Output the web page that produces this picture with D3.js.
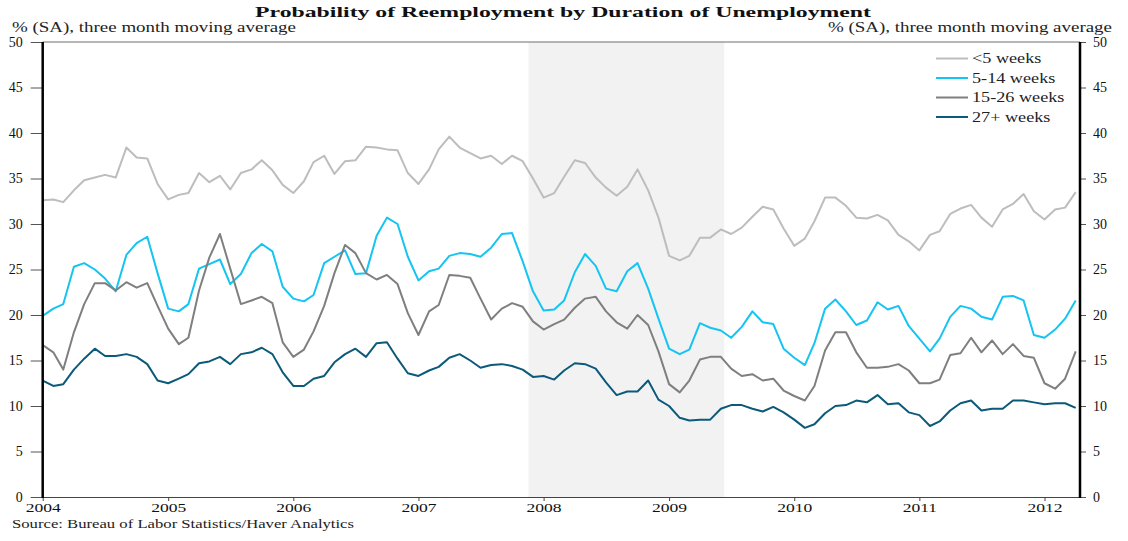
<!DOCTYPE html>
<html>
<head>
<meta charset="utf-8">
<script src="https://cdn.jsdelivr.net/npm/d3@7"></script>
<style>
  html, body { margin: 0; padding: 0; background: #fff; }
  svg { display: block; font-family: "Liberation Serif", "DejaVu Serif", serif; }
</style>
</head>
<body>
<svg id="chart" width="1128" height="541"></svg>
<script>
// ---------------- DATA ----------------
const titleText = "Probability of Reemployment by Duration of Unemployment";
const unitText = "% (SA), three month moving average";
const sourceText = "Source: Bureau of Labor Statistics/Haver Analytics";
const seriesNames = ["<5 weeks", "5-14 weeks", "15-26 weeks", "27+ weeks"];
const firstMonth = "2004-01";
const lastMonth = "2012-04";
const recession = ["2007-12", "2009-06"];
const yTicks = [0, 5, 10, 15, 20, 25, 30, 35, 40, 45, 50];

const lt5 = [32.6,32.7,32.4,33.7,34.8,35.1,35.4,35.1,38.4,37.3,37.2,34.4,
32.7,33.2,33.4,35.6,34.6,35.3,33.8,35.6,36.0,37.0,35.9,34.3,
33.4,34.7,36.8,37.5,35.5,36.9,37.0,38.5,38.4,38.2,38.1,35.6,
34.4,36.0,38.2,39.6,38.4,37.8,37.2,37.5,36.6,37.5,36.9,35.0,
32.9,33.4,35.2,37.0,36.7,35.1,34.0,33.1,34.1,36.0,33.7,30.7,
26.5,26.0,26.5,28.5,28.5,29.4,28.9,29.6,30.8,31.9,31.6,29.5,
27.6,28.4,30.3,32.9,32.9,32.0,30.7,30.6,31.0,30.4,28.8,28.1,
27.1,28.8,29.2,31.1,31.7,32.1,30.7,29.7,31.6,32.2,33.3,31.4,
30.5,31.6,31.8,33.5];

const w5to14 = [19.9,20.7,21.2,25.3,25.7,25.0,24.0,22.6,26.6,27.9,28.6,24.6,
20.7,20.4,21.2,25.1,25.6,26.1,23.4,24.5,26.8,27.8,27.0,23.1,
21.8,21.5,22.2,25.7,26.4,27.1,24.5,24.6,28.7,30.7,30.0,26.4,
23.8,24.8,25.1,26.5,26.8,26.7,26.4,27.4,28.9,29.0,25.9,22.6,
20.5,20.6,21.6,24.7,26.7,25.4,22.9,22.6,24.8,25.7,22.9,19.6,
16.3,15.7,16.2,19.1,18.6,18.3,17.5,18.7,20.4,19.2,19.0,16.3,
15.3,14.5,16.9,20.7,21.7,20.4,18.9,19.4,21.4,20.6,21.0,18.8,
17.4,16.0,17.4,19.8,21.0,20.7,19.8,19.5,22.0,22.1,21.6,17.8,
17.5,18.4,19.6,21.6];

const w15to26 = [16.7,15.9,14.0,18.1,21.2,23.5,23.5,22.7,23.6,23.0,23.5,21.0,
18.5,16.8,17.5,22.7,26.3,28.9,25.1,21.2,21.6,22.0,21.3,17.0,
15.4,16.2,18.2,21.0,24.6,27.7,26.8,24.6,23.9,24.4,23.4,20.2,
17.8,20.4,21.1,24.4,24.3,24.1,21.8,19.5,20.7,21.3,20.9,19.3,
18.4,19.0,19.5,20.8,21.8,22.0,20.4,19.2,18.5,20.0,18.9,16.0,
12.4,11.5,12.8,15.1,15.4,15.4,14.1,13.3,13.5,12.8,13.0,11.7,
11.1,10.6,12.2,16.1,18.1,18.1,15.9,14.2,14.2,14.3,14.6,13.9,
12.5,12.5,12.9,15.6,15.8,17.5,15.9,17.2,15.7,16.8,15.5,15.3,
12.5,11.9,13.0,16.0];

const w27plus = [12.8,12.2,12.4,14.0,15.2,16.3,15.5,15.5,15.7,15.4,14.6,12.8,
12.5,13.0,13.5,14.7,14.9,15.4,14.6,15.7,15.9,16.4,15.7,13.7,
12.2,12.2,13.0,13.3,14.8,15.7,16.3,15.4,16.9,17.0,15.2,13.6,
13.3,13.9,14.3,15.3,15.7,15.0,14.2,14.5,14.6,14.4,14.0,13.2,
13.3,12.9,13.9,14.7,14.6,14.1,12.6,11.2,11.6,11.6,12.8,10.7,
10.0,8.7,8.4,8.5,8.5,9.7,10.1,10.1,9.7,9.4,9.9,9.3,
8.5,7.6,8.0,9.2,10.0,10.1,10.6,10.4,11.2,10.2,10.3,9.3,
9.0,7.8,8.3,9.5,10.3,10.6,9.5,9.7,9.7,10.6,10.6,10.4,
10.2,10.3,10.3,9.8];

const seriesValues = [lt5, w5to14, w15to26, w27plus];
const seriesColors = ["#bdbdbd", "#14c4f2", "#7f7f7f", "#0b5a7a"];

// ---------------- LAYOUT ----------------
const plot = { left: 42.7, right: 1080, top: 42, bottom: 497, lastX: 1075.7 };
const parseM = d3.timeParse("%Y-%m");
const months = d3.timeMonth.range(parseM(firstMonth), d3.timeMonth.offset(parseM(lastMonth), 1));

const svg = d3.select("#chart");

const x = d3.scaleTime()
  .domain([months[0], months[months.length - 1]])
  .range([plot.left, plot.lastX]);
const y = d3.scaleLinear().domain([0, 50]).range([plot.bottom, plot.top]);

// recession shading
const rs = d3.timeDay.offset(parseM(recession[0]), -13);
const re = d3.timeDay.offset(parseM(recession[1]), 10);
svg.append("rect")
  .attr("x", x(rs)).attr("y", y(50))
  .attr("width", x(re) - x(rs)).attr("height", y(0) - y(50))
  .attr("fill", "#f2f2f2");

// top border
svg.append("line")
  .attr("x1", plot.left).attr("x2", plot.right)
  .attr("y1", y(50)).attr("y2", y(50))
  .attr("stroke", "#6e6e6e").attr("stroke-width", 1);

// lines
const line = d3.line()
  .x((d, i) => x(months[i]))
  .y(d => y(d));

seriesValues.forEach((vals, k) => {
  svg.append("path")
    .datum(vals)
    .attr("d", line)
    .attr("fill", "none")
    .attr("stroke", seriesColors[k])
    .attr("stroke-width", 2)
    .attr("stroke-linejoin", "round");
});

// bottom axis
const xAxis = d3.axisBottom(x)
  .ticks(d3.timeYear.every(1))
  .tickFormat(d3.timeFormat("%Y"))
  .tickSize(4).tickSizeOuter(0);
const gx = svg.append("g").attr("transform", `translate(0,${plot.bottom})`).call(xAxis);
gx.select(".domain").remove();
gx.selectAll(".tick line").attr("stroke", "#444");
gx.selectAll(".tick text")
  .attr("y", 6).attr("dy", "0.71em")
  .attr("font-size", 13).attr("fill", "#111")
  .attr("font-family", "Liberation Serif, serif")
  .attr("transform", "scale(1.35,1)");
svg.append("line")
  .attr("x1", plot.left).attr("x2", plot.right)
  .attr("y1", plot.bottom + 0.5).attr("y2", plot.bottom + 0.5)
  .attr("stroke", "#444").attr("stroke-width", 1);

// left axis
const yAxisL = d3.axisLeft(y).tickValues(yTicks).tickSize(12).tickPadding(8);
const gl = svg.append("g").attr("transform", `translate(${plot.left},0)`).call(yAxisL);
gl.select(".domain").remove();
gl.selectAll(".tick line").attr("stroke", "#555");
gl.selectAll(".tick text").attr("font-size", 14).attr("fill", "#111")
  .attr("font-family", "Liberation Serif, serif");
svg.append("line")
  .attr("x1", plot.left).attr("x2", plot.left)
  .attr("y1", y(50)).attr("y2", y(0) + 1)
  .attr("stroke", "#000").attr("stroke-width", 2.5);

// right axis
const yAxisR = d3.axisRight(y).tickValues(yTicks).tickSize(6).tickPadding(7);
const gr = svg.append("g").attr("transform", `translate(${plot.right},0)`).call(yAxisR);
gr.select(".domain").remove();
gr.selectAll(".tick line").attr("stroke", "#555");
gr.selectAll(".tick text").attr("font-size", 14).attr("fill", "#111")
  .attr("font-family", "Liberation Serif, serif");
svg.append("line")
  .attr("x1", plot.right).attr("x2", plot.right)
  .attr("y1", y(50)).attr("y2", y(0) + 1)
  .attr("stroke", "#000").attr("stroke-width", 2.5);

// title & unit labels
svg.append("text")
  .attr("x", 563).attr("y", 17)
  .attr("text-anchor", "middle")
  .attr("font-size", 15).attr("font-weight", "bold").attr("fill", "#111")
  .attr("textLength", 616).attr("lengthAdjust", "spacingAndGlyphs")
  .text(titleText);
svg.append("text")
  .attr("x", 12).attr("y", 32)
  .attr("font-size", 14).attr("fill", "#222")
  .attr("textLength", 284).attr("lengthAdjust", "spacingAndGlyphs")
  .text(unitText);
svg.append("text")
  .attr("x", 1112).attr("y", 32).attr("text-anchor", "end")
  .attr("font-size", 14).attr("fill", "#222")
  .attr("textLength", 284).attr("lengthAdjust", "spacingAndGlyphs")
  .text(unitText);
svg.append("text")
  .attr("x", 12).attr("y", 528)
  .attr("font-size", 12).attr("fill", "#222")
  .attr("textLength", 342).attr("lengthAdjust", "spacingAndGlyphs")
  .text(sourceText);

// legend
const lg = svg.append("g").attr("transform", "translate(936,58.5)");
seriesNames.forEach((name, k) => {
  const row = lg.append("g").attr("transform", `translate(0,${k * 19.5})`);
  row.append("line").attr("x1", 0).attr("x2", 32).attr("y1", 0).attr("y2", 0)
    .attr("stroke", seriesColors[k]).attr("stroke-width", 2);
  row.append("text")
    .attr("transform", "translate(36,4.5) scale(1.3,1)")
    .attr("font-size", 14).attr("fill", "#222")
    .text(name);
});
</script>
</body>
</html>
